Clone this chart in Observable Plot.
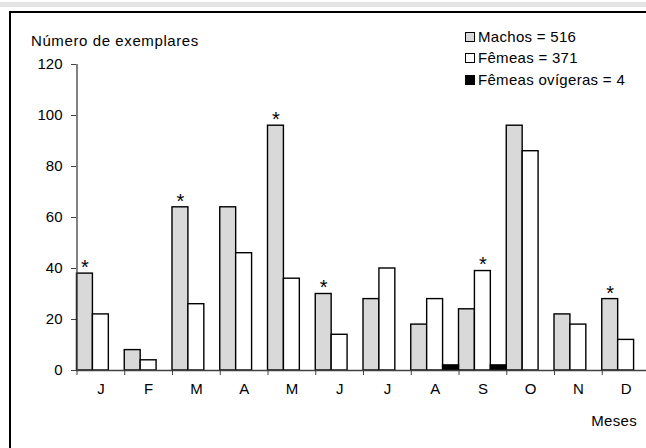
<!DOCTYPE html>
<html>
<head>
<meta charset="utf-8">
<script src="https://cdn.jsdelivr.net/npm/d3@7"></script>
<script src="https://cdn.jsdelivr.net/npm/@observablehq/plot@0.6"></script>
<style>
  html, body { margin: 0; padding: 0; background: #fff; overflow: hidden; }
  #wrap { position: relative; width: 646px; height: 448px; font-family: "Liberation Sans", Arial, sans-serif; }
  #topstrip { position: absolute; left: 0; top: 2px; width: 646px; height: 5px; background: #e4e4e4; }
  #frame { position: absolute; left: 9px; top: 11px; width: 700px; height: 500px; border-left: 2px solid #000; border-top: 2px solid #000; }
  .lbl { position: absolute; font-size: 15px; color: #000; white-space: nowrap; letter-spacing: 0.3px; }
  .legrow { position: absolute; left: 465px; font-size: 15px; white-space: nowrap; display: flex; align-items: center; letter-spacing: 0.3px; }
  .sw { width: 8px; height: 8px; border: 1px solid #000; margin-right: 3px; }
  #chart { position: absolute; left: 0; top: 0; }
  #chart svg { overflow: visible; }
</style>
</head>
<body>
<div id="wrap">
  <div id="topstrip"></div>
  <div id="frame"></div>
  <div id="chart"></div>
  <div class="lbl" id="ytitle" style="left:31px; top:32px; letter-spacing:0.6px;"></div>
  <div class="lbl" id="xtitle" style="right:9px; top:412px;"></div>
  <div id="legend"></div>
</div>
<script>
// ---- data ----
const months = ["J", "F", "M", "A", "M", "J", "J", "A", "S", "O", "N", "D"];
const machos = [38, 8, 64, 64, 96, 30, 28, 18, 24, 96, 22, 28];
const femeas = [22, 4, 26, 46, 36, 14, 40, 28, 39, 86, 18, 12];
const femeasOvigeras = [0, 0, 0, 0, 0, 0, 0, 2, 2, 0, 0, 0];
const asteriscoMachos = [true, false, true, false, true, true, false, false, false, false, false, true];
const asteriscoFemeas = [false, false, false, false, false, false, false, false, true, false, false, false];
const yTicks = [0, 20, 40, 60, 80, 100, 120];
const seriesNames = ["Machos = 516", "Fêmeas = 371", "Fêmeas ovígeras = 4"];
const seriesFills = ["#d9d9d9", "#ffffff", "#000000"];
const yTitle = "Número de exemplares";
const xTitle = "Meses";

// ---- table built from arrays ----
const seriesValues = [machos, femeas, femeasOvigeras];
const bars = [];
seriesValues.forEach((vals, s) => {
  vals.forEach((v, i) => { if (v > 0) bars.push({i, slot: s, value: v, fill: seriesFills[s]}); });
});
const stars = [];
machos.forEach((v, i) => { if (asteriscoMachos[i]) stars.push({i, slot: 0, value: v}); });
femeas.forEach((v, i) => { if (asteriscoFemeas[i]) stars.push({i, slot: 1, value: v}); });

const plot = Plot.plot({
  width: 646,
  height: 448,
  marginLeft: 76,
  marginTop: 64,
  marginBottom: 78,
  marginRight: 0,
  style: {fontFamily: "Liberation Sans, Arial, sans-serif", fontSize: "15px", color: "#000", background: "transparent", overflow: "visible"},
  x: {domain: [0, 12], range: [76.5, 649.5], ticks: d3.range(0, 12), tickSize: 5, tickFormat: () => "", label: null},
  y: {domain: [0, 120], ticks: yTicks, tickSize: 5, tickPadding: 9, label: null},
  marks: [
    Plot.rectY(bars, {
      x1: d => d.i + d.slot / 3,
      x2: d => d.i + (d.slot + 1) / 3,
      y: "value",
      fill: d => d.fill,
      stroke: "#000",
      strokeWidth: 1.4
    }),
    Plot.ruleY([0], {stroke: "#404040", strokeWidth: 1.3}),
    Plot.ruleX([0], {y1: 0, y2: 120, stroke: "#404040", strokeWidth: 1.3}),
    Plot.text(stars, {x: d => d.i + (d.slot + 0.5) / 3, y: "value", text: () => "*", dy: -6, fontSize: 20}),
    Plot.text(months, {x: (d, i) => i + 0.5, text: d => d, frameAnchor: "bottom", dy: 23, fontSize: 15})
  ]
});
plot.querySelectorAll("[aria-label='x-axis tick'] path, [aria-label='y-axis tick'] path").forEach(p => p.setAttribute("stroke", "#404040"));
document.getElementById("chart").appendChild(plot);

document.getElementById("ytitle").textContent = yTitle;
document.getElementById("xtitle").textContent = xTitle;
const leg = document.getElementById("legend");
const rowTops = [28, 49, 71];
seriesNames.forEach((name, s) => {
  const row = document.createElement("div");
  row.className = "legrow";
  row.style.top = rowTops[s] + "px";
  const sw = document.createElement("div");
  sw.className = "sw";
  sw.style.background = seriesFills[s];
  const t = document.createElement("span");
  t.textContent = name;
  row.appendChild(sw);
  row.appendChild(t);
  leg.appendChild(row);
});
</script>
</body>
</html>
